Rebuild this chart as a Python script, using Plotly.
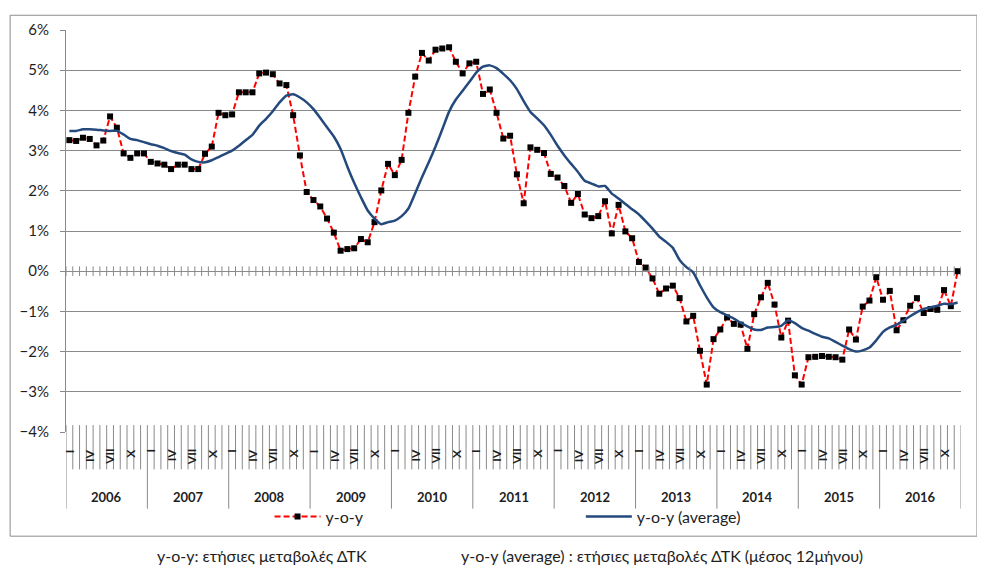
import plotly.graph_objects as go

# monthly data, Jan 2006 .. Dec 2016 (%)
years = list(range(2006, 2017))
month_marks = ["I", "", "", "IV", "", "", "VII", "", "", "X", "", ""]

yoy = [
    3.26, 3.24, 3.32, 3.29, 3.13, 3.25, 3.85, 3.57, 2.93, 2.82, 2.93, 2.93,
    2.72, 2.68, 2.65, 2.54, 2.65, 2.65, 2.54, 2.54, 2.92, 3.10, 3.94, 3.88,
    3.90, 4.45, 4.45, 4.45, 4.92, 4.94, 4.90, 4.67, 4.63, 3.88, 2.88, 1.97,
    1.77, 1.61, 1.31, 0.96, 0.51, 0.55, 0.57, 0.80, 0.72, 1.22, 2.01, 2.67,
    2.39, 2.77, 3.94, 4.84, 5.43, 5.24, 5.51, 5.54, 5.57, 5.21, 4.92, 5.17,
    5.21, 4.41, 4.52, 3.94, 3.30, 3.37, 2.41, 1.69, 3.08, 3.02, 2.94, 2.42,
    2.33, 2.12, 1.70, 1.92, 1.41, 1.32, 1.37, 1.74, 0.94, 1.65, 0.99, 0.82,
    0.23, 0.09, -0.18, -0.56, -0.43, -0.36, -0.67, -1.25, -1.11, -1.98, -2.82, -1.69,
    -1.45, -1.15, -1.31, -1.33, -1.93, -1.07, -0.65, -0.29, -0.83, -1.65, -1.23, -2.59,
    -2.82, -2.14, -2.13, -2.11, -2.13, -2.14, -2.20, -1.45, -1.70, -0.88, -0.73, -0.15,
    -0.71, -0.49, -1.47, -1.22, -0.86, -0.67, -1.04, -0.94, -0.96, -0.47, -0.87, 0.00,
]

yoy_avg = [
    3.49, 3.49, 3.53, 3.53, 3.52, 3.50, 3.49, 3.49, 3.40, 3.29, 3.26, 3.21,
    3.16, 3.12, 3.06, 2.99, 2.94, 2.90, 2.78, 2.72, 2.71, 2.76, 2.84, 2.92,
    3.00, 3.12, 3.26, 3.39, 3.62, 3.79, 3.98, 4.20, 4.37, 4.40, 4.32, 4.20,
    4.03, 3.81, 3.58, 3.35, 3.04, 2.60, 2.20, 1.84, 1.51, 1.31, 1.17, 1.22,
    1.26, 1.37, 1.56, 1.94, 2.34, 2.71, 3.10, 3.53, 3.97, 4.27, 4.49, 4.71,
    4.94, 5.09, 5.12, 5.05, 4.91, 4.75, 4.53, 4.23, 3.96, 3.80, 3.63, 3.39,
    3.12, 2.88, 2.67, 2.47, 2.25, 2.18, 2.11, 2.12, 1.93, 1.81, 1.67, 1.54,
    1.41, 1.24, 1.06, 0.86, 0.73, 0.58, 0.28, 0.10, -0.03, -0.35, -0.65, -0.90,
    -1.02, -1.10, -1.18, -1.28, -1.37, -1.45, -1.46, -1.40, -1.39, -1.36, -1.22, -1.29,
    -1.41, -1.48, -1.56, -1.63, -1.67, -1.76, -1.85, -1.94, -2.00, -1.97, -1.90, -1.72,
    -1.51, -1.40, -1.33, -1.23, -1.12, -1.02, -0.94, -0.90, -0.86, -0.81, -0.82, -0.78,
]

n = len(years) * 12
months = list(range(n))

# page offset of the plot div (default body margin)
OFF = 8
W, H = 985 - OFF, 579 - OFF
L, R, T, B = 56, 24, 15, 147
plot_w = W - L - R
plot_h = H - T - B
GRID = "#8a8a8a"
TXT = "#1e1e1e"
FONT = "Lato"


def px(x):
    # page pixel column -> paper x
    return (x - OFF - L) / plot_w


def py(y):
    # page pixel row -> paper y
    return (OFF + T + plot_h - y) / plot_h


fig = go.Figure()
fig.add_trace(go.Scatter(
    x=months, y=yoy, name="y-o-y", mode="lines+markers",
    line=dict(color="#ff0000", width=2, dash="6px,3px"),
    marker=dict(symbol="square", size=6, color="black"),
    legend="legend", showlegend=True,
))
fig.add_trace(go.Scatter(
    x=months, y=yoy_avg, name="y-o-y (average)", mode="lines",
    line=dict(color="#24497c", width=2.5, shape="spline", smoothing=0.5),
    legend="legend2", showlegend=True,
))

shapes = []
# chart border (left/top edges fall outside the div)
shapes.append(dict(type="rect", xref="paper", yref="paper",
                   x0=px(OFF), x1=px(977), y0=py(538), y1=py(OFF),
                   line=dict(color="#8c8c8c", width=1)))
for k in range(n + 1):
    b = k - 0.5
    # crossing ticks on the 0% axis
    shapes.append(dict(type="line", xref="x", yref="y", x0=b, x1=b,
                       y0=-0.12, y1=0.12, line=dict(color=GRID, width=1)))
    # category label separators
    bottom = py(510) if k % 12 == 0 else py(470)
    shapes.append(dict(type="line", xref="x", yref="paper", x0=b, x1=b,
                       y0=bottom, y1=py(425), line=dict(color=GRID, width=1)))

annotations = []
for yi, yr in enumerate(years):
    for m, lab in enumerate(month_marks):
        if lab:
            annotations.append(dict(
                x=yi * 12 + m, xref="x", y=py(447), yref="paper",
                text="<b>" + lab + "</b>", textangle=-90, showarrow=False,
                xanchor="center", yanchor="top",
                font=dict(family=FONT, size=12, color=TXT)))
    annotations.append(dict(
        x=yi * 12 + 5.5, xref="x", y=py(498), yref="paper",
        text="<b>%d</b>" % yr, showarrow=False, xanchor="center", yanchor="middle",
        font=dict(family=FONT, size=13, color=TXT)))

annotations.append(dict(
    x=px(260), xref="paper", y=py(558), yref="paper",
    text="y-o-y: ετήσιες μεταβολές ΔΤΚ", showarrow=False,
    xanchor="center", yanchor="middle", font=dict(family=FONT, size=16, color=TXT)))
annotations.append(dict(
    x=px(661), xref="paper", y=py(558), yref="paper",
    text="y-o-y (average) : ετήσιες μεταβολές ΔΤΚ (μέσος 12μήνου)", showarrow=False,
    xanchor="center", yanchor="middle", font=dict(family=FONT, size=16, color=TXT)))

leg_font = dict(family=FONT, size=16, color=TXT)
fig.update_layout(
    width=W, height=H,
    margin=dict(l=L, r=R, t=T, b=B),
    paper_bgcolor="white", plot_bgcolor="white",
    font=dict(family=FONT, color=TXT),
    showlegend=True,
    shapes=shapes, annotations=annotations,
    legend=dict(x=px(268), y=py(518), xanchor="left", yanchor="middle",
                orientation="h", font=leg_font, itemwidth=46, bgcolor="rgba(0,0,0,0)"),
    legend2=dict(x=px(580), y=py(518), xanchor="left", yanchor="middle",
                 orientation="h", font=leg_font, itemwidth=46, bgcolor="rgba(0,0,0,0)"),
    xaxis=dict(range=[-0.5, n - 0.5], showgrid=False, zeroline=False,
               showticklabels=False, ticks="", showline=False, fixedrange=True),
    yaxis=dict(range=[-4, 6], dtick=1, ticksuffix="%", showgrid=True, gridcolor=GRID,
               gridwidth=1, zeroline=False, showline=True, linecolor=GRID,
               ticks="outside", ticklen=5, tickcolor=GRID, ticklabelstandoff=8,
               tickfont=dict(family=FONT, size=15, color=TXT)),
)

fig.write_html("out.html")
